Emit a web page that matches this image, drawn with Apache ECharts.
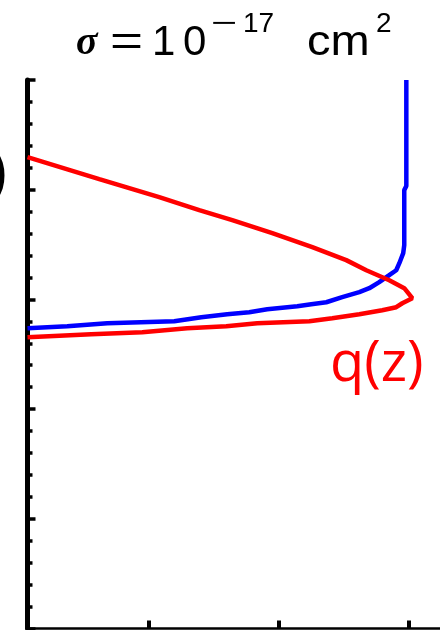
<!DOCTYPE html>
<html>
<head>
<meta charset="utf-8">
<script src="https://cdn.jsdelivr.net/npm/echarts@6/dist/echarts.min.js"></script>
<style>
  html, body { margin: 0; padding: 0; background: #fff; }
  #main { width: 440px; height: 630px; }
</style>
</head>
<body>
<div id="main"></div>
<script>
// profiles: [x, z] pairs, top to bottom
var blueProfile = [
    [2.985, 5.0], [2.985, 4.033], [2.969, 3.996], [2.969, 3.495], [2.961, 3.422],
    [2.931, 3.330], [2.907, 3.266], [2.853, 3.221], [2.776, 3.157], [2.699, 3.102],
    [2.622, 3.066], [2.490, 3.020], [2.367, 2.974], [2.251, 2.956], [2.143, 2.938],
    [1.911, 2.910], [1.772, 2.883], [1.602, 2.865], [1.402, 2.838], [1.193, 2.801],
    [0.676, 2.783], [0.367, 2.755], [0.06, 2.737]
];
var qProfile = [
    [0.06, 4.297], [0.614, 4.097], [1.077, 3.932], [1.386, 3.814], [1.641, 3.723],
    [1.950, 3.604], [2.259, 3.476], [2.521, 3.358], [2.676, 3.266], [2.853, 3.175],
    [2.969, 3.102], [3.031, 3.011], [2.954, 2.965], [2.907, 2.929], [2.799, 2.901],
    [2.622, 2.865], [2.413, 2.828], [2.236, 2.801], [1.834, 2.783], [1.595, 2.755],
    [1.293, 2.737], [0.946, 2.701], [0.552, 2.682], [0.06, 2.655]
];
var xTicks = [1, 2, 3];
var seriesLabel = 'q(z)';

var chart = echarts.init(document.getElementById('main'));

chart.setOption({
    animation: false,
    backgroundColor: '#fff',
    grid: { left: 27.5, right: 0, top: 80, bottom: 1.5 },
    xAxis: {
        type: 'value',
        min: 0.06,
        max: 3.245,
        axisLine: { lineStyle: { color: '#000', width: 2.5 } },
        axisTick: { show: true, inside: true, length: 8, customValues: xTicks, lineStyle: { color: '#000', width: 4 } },
        axisLabel: { show: false },
        splitLine: { show: false }
    },
    yAxis: {
        type: 'value',
        min: 0,
        max: 5,
        interval: 1,
        axisLine: { show: true, lineStyle: { color: '#000', width: 5 } },
        axisTick: { show: true, inside: true, length: 8, lineStyle: { color: '#000', width: 3.5 } },
        minorTick: { show: true, splitNumber: 5, length: 5, lineStyle: { color: '#000', width: 3.5 } },
        axisLabel: { show: false },
        splitLine: { show: false }
    },
    series: [
        {
            type: 'line',
            data: blueProfile,
            showSymbol: false,
            lineStyle: { color: '#0000ff', width: 4.5 }
        },
        {
            type: 'line',
            data: qProfile,
            showSymbol: false,
            lineStyle: { color: '#ff0000', width: 4.5 }
        }
    ],
    graphic: [
        // title  σ=10^-17 cm^2
        { type: 'text', x: 76, y: 44, style: { text: 'σ', font: 'italic bold 40px "Liberation Serif"', fill: '#000', verticalAlign: 'middle' } },
        { type: 'text', x: 110, y: 43, scaleX: 1.35, style: { text: '=', font: '42px "Liberation Sans"', fill: '#000', verticalAlign: 'middle' } },
        { type: 'text', x: 152, y: 43, style: { text: '1', font: '42px "Liberation Sans"', fill: '#000', verticalAlign: 'middle' } },
        { type: 'text', x: 183, y: 43, style: { text: '0', font: '42px "Liberation Sans"', fill: '#000', verticalAlign: 'middle' } },
        { type: 'text', x: 211, y: 24, scaleX: 1.6, style: { text: '−', font: '28px "Liberation Sans"', fill: '#000', verticalAlign: 'middle' } },
        { type: 'text', x: 243, y: 24, style: { text: '17', font: '28px "Liberation Sans"', fill: '#000', verticalAlign: 'middle' } },
        { type: 'text', x: 307, y: 43, scaleX: 1.12, style: { text: 'cm', font: '42px "Liberation Sans"', fill: '#000', verticalAlign: 'middle' } },
        { type: 'text', x: 376, y: 24, style: { text: '2', font: '28px "Liberation Sans"', fill: '#000', verticalAlign: 'middle' } },
        // cut-off panel label on the left edge
        { type: 'text', x: 7, y: 175, style: { text: ')', font: 'bold 52px "Liberation Sans"', fill: '#000', align: 'right', verticalAlign: 'middle' } },
        // curve label
        { type: 'text', x: 330, y: 365, style: { text: seriesLabel, font: '56px "Open Sans"', fill: '#ff0000', verticalAlign: 'middle' } }
    ]
});
</script>
</body>
</html>
